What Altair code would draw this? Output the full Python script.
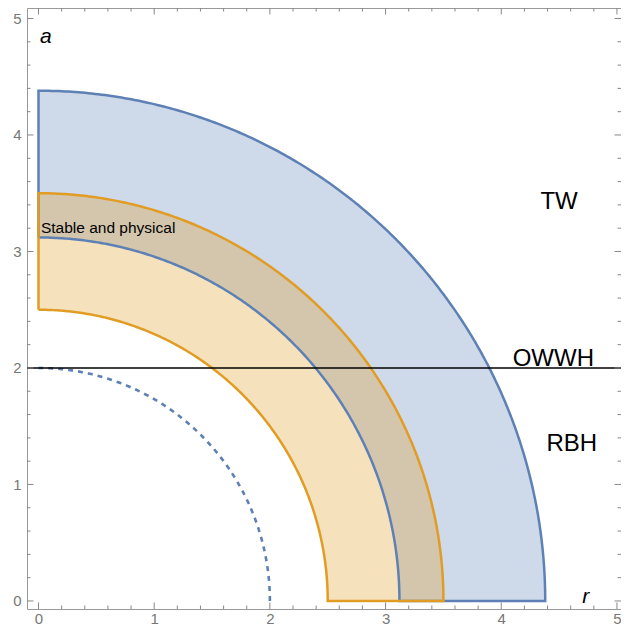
import altair as alt
import numpy as np
import pandas as pd

# ---- data ----
region_names = ["blue", "orange"]
inner_radius = [3.12, 2.50]
outer_radius = [4.38, 3.50]
region_colors = ["#5E81B5", "#E19C24"]
dashed_radius = 2.0
horizon_a = 2.0

major_ticks = [0, 1, 2, 3, 4, 5]
minor_ticks = [0.2, 0.4, 0.6, 0.8, 1.2, 1.4, 1.6, 1.8, 2.2, 2.4, 2.6, 2.8,
               3.2, 3.4, 3.6, 3.8, 4.2, 4.4, 4.6, 4.8]

label_text = ["TW", "OWWH", "RBH"]
label_x = [4.50, 4.45, 4.61]
label_y = [3.365, 2.014, 1.29]

small_text = ["Stable and physical"]
small_x = [0.021]
small_y = [3.16]

axis_text = ["a", "r"]
axis_text_x = [0.013, 4.70]
axis_text_y = [4.79, -0.017]

W, H = 594, 601
XDOM = [-0.0994, 5.035]
YDOM = [-0.069, 5.090]
FONT = "Liberation Sans"

xs = alt.Scale(domain=XDOM, nice=False, zero=False)
ys = alt.Scale(domain=YDOM, nice=False, zero=False)
theta = np.linspace(0, np.pi / 2, 240)


def area_df(r_in, r_out):
    xv = np.unique(np.concatenate([r_out * np.cos(theta), r_in * np.cos(theta)]))
    yv = np.sqrt(np.clip(r_out ** 2 - xv ** 2, 0, None))
    y2 = np.sqrt(np.clip(r_in ** 2 - xv ** 2, 0, None))
    return pd.DataFrame({"x": xv, "y": yv, "y2": y2})


def outline_df(r_in, r_out):
    px = [0.0]
    py = [r_in]
    px += list(r_out * np.cos(theta[::-1]))
    py += list(r_out * np.sin(theta[::-1]))
    px += list(r_in * np.cos(theta))
    py += list(r_in * np.sin(theta))
    px.append(0.0)
    py.append(r_in)
    return pd.DataFrame({"x": px, "y": py, "o": np.arange(len(px))})


fills = []
lines = []
for i, name in enumerate(region_names):
    a = alt.Chart(area_df(inner_radius[i], outer_radius[i])).mark_area(
        color=region_colors[i], opacity=0.3, interpolate="linear"
    ).encode(
        x=alt.X("x:Q", scale=xs, title="",
                axis=alt.Axis(values=major_ticks, format="d")),
        y=alt.Y("y:Q", scale=ys, title="",
                axis=alt.Axis(values=major_ticks, format="d")),
        y2="y2:Q",
    )
    l = alt.Chart(outline_df(inner_radius[i], outer_radius[i])).mark_line(
        color=region_colors[i], strokeWidth=2.5, strokeJoin="miter"
    ).encode(
        x=alt.X("x:Q", scale=xs),
        y=alt.Y("y:Q", scale=ys),
        order="o:Q",
    )
    fills.append(a)
    lines.append(l)

dash_df = pd.DataFrame({"x": dashed_radius * np.cos(theta),
                        "y": dashed_radius * np.sin(theta),
                        "o": np.arange(len(theta))})
dashed = alt.Chart(dash_df).mark_line(
    color="#5E81B5", strokeWidth=2.6, strokeDash=[5, 5]
).encode(x=alt.X("x:Q", scale=xs), y=alt.Y("y:Q", scale=ys), order="o:Q")

hline = alt.Chart(pd.DataFrame({"y": [horizon_a]})).mark_rule(
    color="black", strokeWidth=1.5
).encode(y=alt.Y("y:Q", scale=ys), x=alt.value(0), x2=alt.value(W))

big = alt.Chart(pd.DataFrame({"t": label_text, "x": label_x, "y": label_y})).mark_text(
    font=FONT, fontSize=24, align="center", baseline="alphabetic", color="black"
).encode(x=alt.X("x:Q", scale=xs), y=alt.Y("y:Q", scale=ys), text="t:N")

small = alt.Chart(pd.DataFrame({"t": small_text, "x": small_x, "y": small_y})).mark_text(
    font=FONT, fontSize=15.5, align="left", baseline="alphabetic", color="black"
).encode(x=alt.X("x:Q", scale=xs), y=alt.Y("y:Q", scale=ys), text="t:N")

ax_lab = alt.Chart(pd.DataFrame({"t": axis_text, "x": axis_text_x, "y": axis_text_y})).mark_text(
    font=FONT, fontSize=21, fontStyle="italic", align="left", baseline="alphabetic", color="black"
).encode(x=alt.X("x:Q", scale=xs), y=alt.Y("y:Q", scale=ys), text="t:N")

TICK = "#888888"
major_df = pd.DataFrame({"v": major_ticks})
minor_df = pd.DataFrame({"v": minor_ticks})
tick_layers = []
for df, ln in [(major_df, 6.5), (minor_df, 3.5)]:
    base = alt.Chart(df).mark_rule(color=TICK, strokeWidth=1)
    tick_layers += [
        base.encode(x=alt.X("v:Q", scale=xs), y=alt.value(H), y2=alt.value(H - ln)),
        base.encode(x=alt.X("v:Q", scale=xs), y=alt.value(0), y2=alt.value(ln)),
        base.encode(y=alt.Y("v:Q", scale=ys), x=alt.value(0), x2=alt.value(ln)),
        base.encode(y=alt.Y("v:Q", scale=ys), x=alt.value(W), x2=alt.value(W - ln)),
    ]

chart = alt.layer(*fills, *lines, dashed, hline, *tick_layers, big, small, ax_lab).properties(
    width=W, height=H,
    autosize=alt.AutoSizeParams(type="none"),
    padding={"left": 19, "top": 0, "right": 0, "bottom": 20},
).configure_view(
    stroke="#999999", strokeWidth=1
).configure_axis(
    grid=False, ticks=False, tickSize=0, domain=False,
    labelColor="#777777", labelFont=FONT, labelFontSize=15,
).configure_axisLeft(labelPadding=6).configure_axisBottom(labelPadding=2)

chart.save("out.html", embed_options={"renderer": "svg", "actions": False})
